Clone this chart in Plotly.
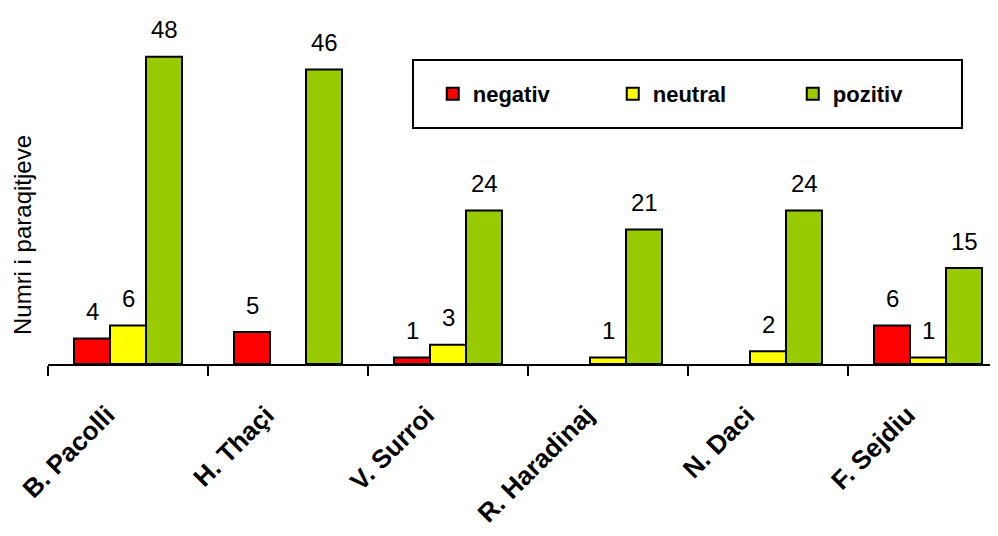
import plotly.graph_objects as go

names = ["B. Pacolli", "H. Thaçi", "V. Surroi", "R. Haradinaj", "N. Daci", "F. Sejdiu"]
negativ = [4, 5, 1, 0, 0, 6]
neutral = [6, 0, 3, 1, 2, 1]
pozitiv = [48, 46, 24, 21, 24, 15]

series = [("negativ", negativ, "#FF0000"),
          ("neutral", neutral, "#FFFF00"),
          ("pozitiv", pozitiv, "#99CC00")]

FONT = "Arial, Liberation Sans, sans-serif"

fig = go.Figure()
for i, (nm, vals, col) in enumerate(series):
    # hide the empty (zero) bars
    fig.add_trace(go.Bar(x=names, y=[v if v else None for v in vals], name=nm,
                         marker=dict(color=col, line=dict(color="black", width=2))))
    for n, v in zip(names, vals):
        if v:
            fig.add_annotation(x=n, y=v, text=str(v), showarrow=False,
                               xshift=(i - 1) * 36, yshift=27,
                               font=dict(family=FONT, size=24, color="black"))

# category labels, slanted
for n in names:
    fig.add_annotation(x=n, y=0, text="<b>" + n + "</b>", showarrow=False,
                       textangle=-45, xanchor="right", yanchor="top",
                       xshift=-5, yshift=-33,
                       font=dict(family=FONT, size=26, color="black"))

# y title (sits below the plot middle in the original)
fig.add_annotation(xref="paper", yref="paper", x=0, y=0.403, xshift=-26,
                   text="Numri i paraqitjeve", textangle=-90, showarrow=False,
                   xanchor="center", yanchor="middle",
                   font=dict(family=FONT, size=24, color="black"))

# legend frame
fig.add_shape(type="rect", xref="paper", yref="paper", x0=0.3842, x1=0.9621,
              y0=0.7375, y1=0.95, line=dict(color="black", width=2),
              fillcolor="white", layer="below")

# page has an 8px body margin, so shift everything up/left by 8px
fig.update_layout(
    width=998, height=536,
    margin=dict(l=40, r=8, t=36, b=180),
    paper_bgcolor="white", plot_bgcolor="white",
    barmode="group", bargap=0.325, bargroupgap=0,
    font=dict(family=FONT, color="black"),
    showlegend=True,
    legend=dict(orientation="h", x=0.405, y=0.84375, xanchor="left", yanchor="middle",
                bgcolor="rgba(0,0,0,0)", borderwidth=0,
                entrywidth=135, itemwidth=30,
                font=dict(family=FONT, size=22, color="black", weight="bold")),
)
fig.update_xaxes(range=[-0.5, 5.4375], showline=True, linecolor="black", linewidth=2,
                 ticks="outside", tickson="boundaries", ticklen=10, tickwidth=2,
                 tickcolor="black", showticklabels=False,
                 showgrid=False, automargin=False)
fig.update_yaxes(range=[0, 50], showline=False, showgrid=False, zeroline=False,
                 showticklabels=False, ticks="", automargin=False)

fig.write_html("out.html")
